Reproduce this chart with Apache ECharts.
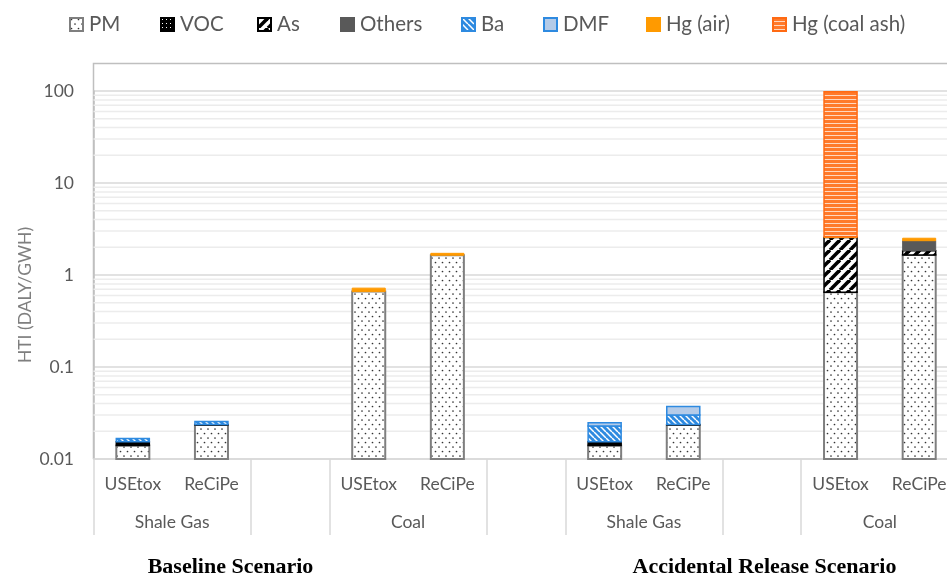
<!DOCTYPE html>
<html>
<head>
<meta charset="utf-8">
<script src="https://cdn.jsdelivr.net/npm/echarts@6/dist/echarts.min.js"></script>
<style>
  html, body { margin: 0; padding: 0; background: #fff; }
  #chart { width: 947px; height: 575px; }
</style>
</head>
<body>
<div id="chart"></div>
<script>
// Human toxicity impact (HTI) of shale gas and coal power, stacked by emission, log scale

// ---- data ----
const categories = ['USEtox', 'ReCiPe', '', 'USEtox', 'ReCiPe', '', 'USEtox', 'ReCiPe', '', 'USEtox', 'ReCiPe'];
const groupLabels = ['Shale Gas', 'Coal', 'Shale Gas', 'Coal'];
const groupCenters = [1, 4, 7, 10];          // centre of each fuel group, in category units
const separatorSlots = [0, 2, 3, 5, 6, 8, 9]; // category slots that start with a divider
const scenarioLabels = ['Baseline Scenario', 'Accidental Release Scenario'];
const seriesNames = ['PM', 'VOC', 'As', 'Others', 'Ba', 'DMF', 'Hg (air)', 'Hg (coal ash)'];
const yTickValues = [0.01, 0.1, 1, 10, 100];

// DALY/GWh per emission, one entry per category slot (0 = not present)
const pm        = [0.014,  0.0234, 0, 0.66, 1.64, 0, 0.014,  0.0234, 0, 0.65, 1.65];
const voc       = [0.0014, 0.0003, 0, 0,    0,    0, 0.0014, 0.0003, 0, 0,    0];
const arsenic   = [0,      0,      0, 0,    0,    0, 0,      0,      0, 1.9,  0.19];
const others    = [0,      0,      0, 0,    0,    0, 0,      0,      0, 0,    0.52];
const barium    = [0.0013, 0.0018, 0, 0,    0,    0, 0.0074, 0.0064, 0, 0,    0];
const dmf       = [0,      0,      0, 0,    0,    0, 0.002,  0.007,  0, 0,    0];
const hgAir     = [0,      0,      0, 0.06, 0.08, 0, 0,      0,      0, 0.06, 0.15];
const hgCoalAsh = [0,      0,      0, 0,    0,    0, 0,      0,      0, 95.6, 0];

const stackOrder = [pm, voc, arsenic, others, barium, dmf, hgAir, hgCoalAsh];
const yMin = 0.01, yMax = 100;

// ---- fill patterns ----
function tile(w, h, draw) {
  const c = document.createElement('canvas');
  c.width = w; c.height = h;
  draw(c.getContext('2d'), w, h);
  return { image: c, repeat: 'repeat' };
}
function dot(g, x, y, r) { g.beginPath(); g.arc(x, y, r, 0, Math.PI * 2); g.fill(); }

const dottedWhite = tile(7, 9, (g, w, h) => {
  g.fillStyle = '#ffffff'; g.fillRect(0, 0, w, h);
  g.fillStyle = '#333333';
  dot(g, 1.5, 1.5, 0.85); dot(g, 5, 6, 0.85);
});
const dottedBlack = tile(4, 4, (g, w, h) => {
  g.fillStyle = '#000000'; g.fillRect(0, 0, w, h);
  g.fillStyle = '#ffffff'; g.fillRect(1, 1, 1, 1);
});
const wideUpDiagonal = tile(10, 10, (g, w, h) => {
  g.fillStyle = '#ffffff'; g.fillRect(0, 0, w, h);
  g.strokeStyle = '#000000'; g.lineWidth = 3.6;
  for (const o of [-w, 0, w]) { g.beginPath(); g.moveTo(o, h); g.lineTo(o + w, 0); g.stroke(); }
});
const blueDownDiagonal = tile(6, 6, (g, w, h) => {
  g.fillStyle = '#2e8ae0'; g.fillRect(0, 0, w, h);
  g.strokeStyle = '#ffffff'; g.lineWidth = 1.5;
  for (const o of [-w, 0, w]) { g.beginPath(); g.moveTo(o, 0); g.lineTo(o + w, h); g.stroke(); }
});
const orangeHorizontal = tile(4, 4, (g, w, h) => {
  g.fillStyle = '#ff7a2b'; g.fillRect(0, 0, w, 3);
  g.fillStyle = '#ffd8bf'; g.fillRect(0, 3, w, 1);
});

const segStyles = [
  { fill: dottedWhite,      stroke: '#7f7f7f', lw: 2 },
  { fill: dottedBlack,      stroke: '#000000', lw: 1.5 },
  { fill: wideUpDiagonal,   stroke: '#000000', lw: 1.5 },
  { fill: '#595959',        stroke: '#595959', lw: 1 },
  { fill: blueDownDiagonal, stroke: '#2e8ae0', lw: 1.5 },
  { fill: '#b4cbe8',        stroke: '#2e8ae0', lw: 1.5 },
  { fill: '#ff9a00',        stroke: '#ff9a00', lw: 1 },
  { fill: orangeHorizontal, stroke: '#ff6a13', lw: 1.5 }
];

// ---- stack segments: [slot, lower, upper] ----
const segments = stackOrder.map(() => []);
categories.forEach((_, i) => {
  let cum = 0;
  stackOrder.forEach((arr, s) => {
    const v = arr[i];
    if (!v) return;
    const lo = Math.max(cum, yMin);
    cum += v;
    segments[s].push([i, lo, cum]);
  });
});

// minor log gridlines at 2..9 of each decade
const minorGrid = [];
for (let d = yMin; d < yMax * 0.99; d *= 10) {
  for (let k = 2; k <= 9; k++) minorGrid.push([0, +(d * k).toPrecision(6)]);
}

const FONT = 'Lato';
const TXT = '#595959';
const BAR_RATIO = 0.42;

const series = [];

// minor gridlines drawn beneath the bars
series.push({
  type: 'custom',
  name: 'minor-grid',
  data: minorGrid,
  encode: { x: 0, y: 1 },
  silent: true,
  z: 1,
  renderItem: function (params, api) {
    const y = api.coord([0, api.value(1)])[1];
    const cs = params.coordSys;
    return {
      type: 'line',
      shape: { x1: cs.x, y1: y, x2: cs.x + cs.width, y2: y },
      style: { stroke: '#ececec', lineWidth: 1.5 }
    };
  }
});

seriesNames.forEach((name, s) => {
  series.push({
    type: 'custom',
    name: name,
    data: segments[s],
    encode: { x: 0, y: [1, 2] },
    silent: true,
    z: 3,
    itemStyle: { color: segStyles[s].fill, borderColor: segStyles[s].stroke, borderWidth: segStyles[s].lw },
    renderItem: function (params, api) {
      const slot = api.value(0);
      const top = api.coord([slot, api.value(2)]);
      const bottom = api.coord([slot, api.value(1)]);
      const w = params.coordSys.width / categories.length * BAR_RATIO;
      return {
        type: 'rect',
        shape: { x: top[0] - w / 2, y: top[1], width: w, height: bottom[1] - top[1] },
        style: { fill: segStyles[s].fill, stroke: segStyles[s].stroke, lineWidth: segStyles[s].lw }
      };
    }
  });
});

const legendLeft = [69, 160, 257, 340, 461, 543, 646, 772];

const option = {
  animation: false,
  backgroundColor: '#ffffff',
  grid: { left: 93.5, top: 91, width: 865, bottom: 116, outerBoundsMode: 'none', containLabel: false },
  legend: seriesNames.map((n, i) => ({
    data: [n],
    left: legendLeft[i],
    top: 14,
    padding: 0,
    icon: 'rect',
    itemWidth: 13,
    itemHeight: 13,
    selectedMode: false,
    textStyle: { color: TXT, fontFamily: FONT, fontSize: 20.5, padding: [0, 0, 0, 1] }
  })),
  xAxis: [
    {
      type: 'category',
      data: categories,
      axisLine: { show: true, lineStyle: { color: '#d9d9d9', width: 1.5 } },
      axisTick: {
        show: true,
        interval: (idx) => separatorSlots.includes(idx),
        length: 76,
        lineStyle: { color: '#d9d9d9', width: 1.5 }
      },
      axisLabel: { interval: 0, margin: 16, color: TXT, fontFamily: FONT, fontSize: 17.5 },
      splitLine: { show: false }
    },
    {
      type: 'value',
      position: 'bottom',
      min: 0,
      max: categories.length,
      interval: 1,
      axisLine: { show: false },
      axisTick: { show: false },
      splitLine: { show: false },
      axisLabel: {
        margin: 54,
        color: TXT, fontFamily: FONT, fontSize: 17.5,
        formatter: (v) => {
          const k = groupCenters.indexOf(Math.round(v));
          return k >= 0 && Math.abs(v - Math.round(v)) < 1e-6 ? groupLabels[k] : '';
        }
      }
    }
  ],
  yAxis: {
    type: 'log',
    logBase: 10,
    min: yMin,
    max: yMax,
    axisLine: { show: true, lineStyle: { color: '#bfbfbf', width: 1.5 } },
    axisTick: { show: false },
    splitLine: { show: true, lineStyle: { color: '#d9d9d9', width: 1.5 } },
    axisLabel: {
      margin: 19.5,
      color: TXT, fontFamily: FONT, fontSize: 17.5,
      formatter: (v) => {
        const t = yTickValues.find(t => Math.abs(Math.log10(v) - Math.log10(t)) < 1e-6);
        return t === undefined ? '' : String(t);
      }
    }
  },
  graphic: [
    {
      type: 'polyline',
      silent: true,
      z: 0,
      shape: { points: [[93.5, 459], [93.5, 63.5], [960, 63.5]] },
      style: { stroke: '#bfbfbf', lineWidth: 1.5, fill: null }
    },
    {
      type: 'text',
      x: 25, y: 295,
      rotation: Math.PI / 2,
      silent: true,
      style: {
        text: 'HTI (DALY/GWH)', fill: '#7f7f7f', font: '17.5px Lato',
        textAlign: 'center', textVerticalAlign: 'middle', align: 'center', verticalAlign: 'middle'
      }
    },
    {
      type: 'text',
      x: 230.5, y: 567,
      silent: true,
      style: {
        text: scenarioLabels[0], fill: '#000000', font: 'bold 22px "Liberation Serif"',
        textAlign: 'center', textVerticalAlign: 'middle', align: 'center', verticalAlign: 'middle'
      }
    },
    {
      type: 'text',
      x: 764.5, y: 567,
      silent: true,
      style: {
        text: scenarioLabels[1], fill: '#000000', font: 'bold 22px "Liberation Serif"',
        textAlign: 'center', textVerticalAlign: 'middle', align: 'center', verticalAlign: 'middle'
      }
    }
  ],
  series: series
};

const chart = echarts.init(document.getElementById('chart'), null, { renderer: 'canvas' });
chart.setOption(option);
</script>
</body>
</html>
